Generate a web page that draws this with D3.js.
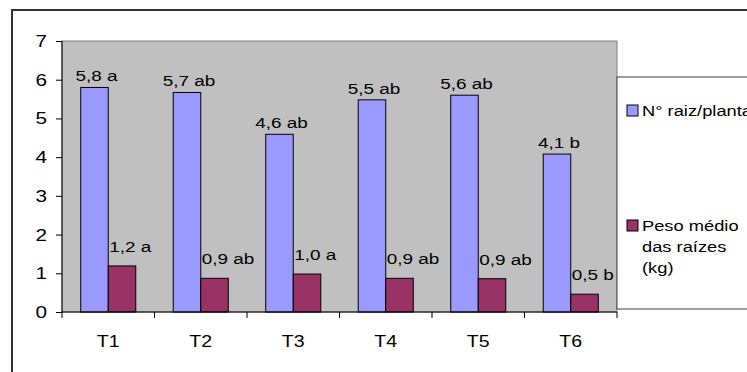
<!DOCTYPE html>
<html>
  <head>
    <meta charset="utf-8">
    <script src="https://d3js.org/d3.v7.min.js"></script>
    <style>
      body { margin: 0; background: #fff; }
      svg { display: block; font-family: "Liberation Sans", Arial, sans-serif; }
      .axis .tick line { stroke: #000; }
      .axis .domain { stroke: #000; }
      .axis .tick text { fill: #000; }
    </style>
  </head>
  <body>
    <svg width="747" height="372"></svg>
    <script>
      const categories = ["T1", "T2", "T3", "T4", "T5", "T6"];
      const seriesNames = ["N° raiz/planta", "Peso médio das raízes (kg)"];
      const raizValues = [5.8, 5.67, 4.59, 5.48, 5.6, 4.08];
      const pesoValues = [1.19, 0.87, 0.98, 0.87, 0.86, 0.46];
      const raizLabels = ["5,8 a", "5,7 ab", "4,6 ab", "5,5 ab", "5,6 ab", "4,1 b"];
      const pesoLabels = ["1,2 a", "0,9 ab", "1,0 a", "0,9 ab", "0,9 ab", "0,5 b"];
      const yTicks = [0, 1, 2, 3, 4, 5, 6, 7];
      const colors = ["#9999FF", "#993366"];

      const margin = {top: 41, left: 62};
      const innerWidth = 555;
      const innerHeight = 271;
      const stretch = 1.22;

      const svg = d3.select("svg");

      // outer chart frame (cropped on right and bottom)
      svg.append("rect")
        .attr("x", 12).attr("y", 10)
        .attr("width", 800).attr("height", 500)
        .attr("fill", "#fff")
        .attr("stroke", "#333").attr("stroke-width", 2);

      const g = svg.append("g")
        .attr("transform", `translate(${margin.left}, ${margin.top})`);

      const xScale = d3.scaleBand()
        .domain(categories)
        .range([0, innerWidth])
        .paddingInner(0.405)
        .paddingOuter(0.2025);
      const xSub = d3.scaleBand()
        .domain([0, 1])
        .range([0, xScale.bandwidth()]);
      const yScale = d3.scaleLinear()
        .domain([0, 7])
        .range([innerHeight, 0]);

      g.append("rect")
        .attr("width", innerWidth).attr("height", innerHeight)
        .attr("fill", "#C0C0C0")
        .attr("stroke", "#808080");

      const rows = categories.map((c, i) => ({
        cat: c,
        vals: [raizValues[i], pesoValues[i]],
        labels: [raizLabels[i], pesoLabels[i]]
      }));

      const groups = g.selectAll(".cat").data(rows)
        .enter().append("g")
          .attr("transform", d => `translate(${xScale(d.cat)},0)`);

      groups.selectAll("rect").data(d => d.vals)
        .enter().append("rect")
          .attr("x", (d, j) => xSub(j))
          .attr("y", d => yScale(d))
          .attr("width", xSub.bandwidth())
          .attr("height", d => innerHeight - yScale(d))
          .attr("fill", (d, j) => colors[j])
          .attr("stroke", "#000");

      // value labels
      groups.selectAll(".lbl").data(d => d.vals.map((v, j) => ({v, j, t: d.labels[j]})))
        .enter().append("text")
          .attr("transform", d => {
            const x = d.j === 0 ? xSub(0) + xSub.bandwidth() / 2 + 2 : xSub(1) + 1;
            const y = yScale(d.v) - (d.j === 0 ? 6 : 14);
            return `translate(${x},${y}) scale(${stretch},1)`;
          })
          .attr("text-anchor", d => d.j === 0 ? "middle" : "start")
          .attr("font-size", 15.5)
          .text(d => d.t);

      // axes
      const yAxis = d3.axisLeft(yScale)
        .tickValues(yTicks)
        .tickSize(6)
        .tickPadding(9)
        .tickFormat(d3.format("d"));
      const yAxisG = g.append("g").attr("class", "axis").call(yAxis);
      yAxisG.select(".domain").attr("d", `M0,0V${innerHeight}`);
      yAxisG.selectAll(".tick text")
        .attr("font-size", 17)
        .attr("transform", `scale(${stretch},1)`)
        .attr("x", -15 / stretch);

      const xAxisG = g.append("g")
        .attr("class", "axis")
        .attr("transform", `translate(0, ${innerHeight})`);
      xAxisG.append("line")
        .attr("x1", 0).attr("x2", innerWidth)
        .attr("stroke", "#000");
      xAxisG.selectAll(".sep").data(d3.range(categories.length + 1))
        .enter().append("line")
          .attr("x1", i => i * xScale.step())
          .attr("x2", i => i * xScale.step())
          .attr("y1", 0).attr("y2", 6)
          .attr("stroke", "#000");
      xAxisG.selectAll(".cl").data(categories)
        .enter().append("text")
          .attr("transform", d => `translate(${xScale(d) + xScale.bandwidth() / 2},35) scale(${stretch},1)`)
          .attr("text-anchor", "middle")
          .attr("font-size", 16)
          .text(d => d);

      // legend
      const legend = svg.append("g");
      legend.append("rect")
        .attr("x", 617).attr("y", 77)
        .attr("width", 200).attr("height", 232)
        .attr("fill", "#fff")
        .attr("stroke", "#404040");
      const legendLines = [["N° raiz/planta"], ["Peso médio", "das raízes", "(kg)"]];
      const legendY = [105, 220];
      legendLines.forEach((lines, i) => {
        legend.append("rect")
          .attr("x", 627).attr("y", legendY[i])
          .attr("width", 11).attr("height", 11)
          .attr("fill", colors[i])
          .attr("stroke", "#000");
        lines.forEach((t, k) => {
          legend.append("text")
            .attr("transform", `translate(642,${legendY[i] + 11 + k * 21}) scale(${stretch},1)`)
            .attr("font-size", 15)
            .text(t);
        });
      });
    </script>
  </body>
</html>
